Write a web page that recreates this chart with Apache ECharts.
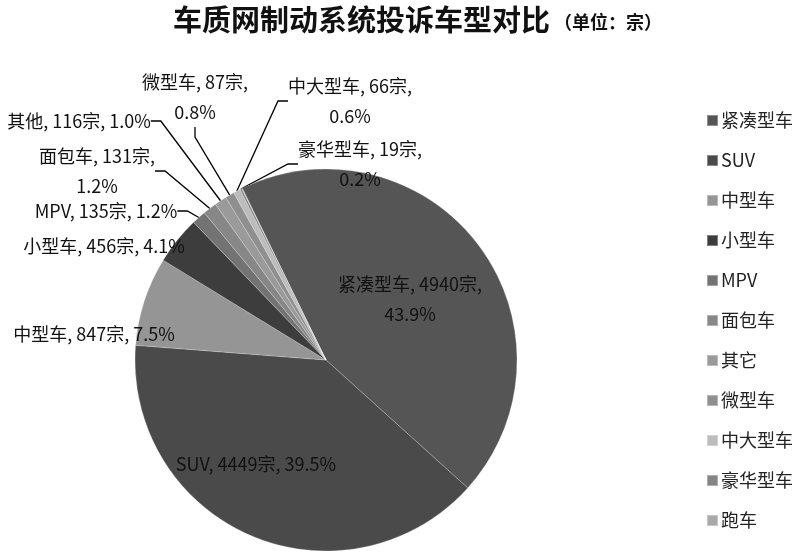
<!DOCTYPE html>
<html>
<head>
<meta charset="utf-8">
<script src="https://cdn.jsdelivr.net/npm/echarts@6/dist/echarts.min.js"></script>
<style>
html,body{margin:0;padding:0;background:#fff;}
#chart{width:800px;height:555px;}
</style>
</head>
<body>
<div id="chart"></div>
<script>
// ---- data ----
const categories = ['紧凑型车','SUV','中型车','小型车','MPV','面包车','其它','微型车','中大型车','豪华型车','跑车'];
const counts = [4940, 4449, 847, 456, 135, 131, 116, 87, 66, 19, 5];
const labelNames = ['紧凑型车','SUV','中型车','小型车','MPV','面包车','其他','微型车','中大型车','豪华型车',''];
const titleText = '车质网制动系统投诉车型对比';
const unitText = '（单位：宗）';

// ---- styles ----
const colors = ['#555555','#4a4a4a','#959595','#3d3d3d','#737373','#878787','#9a9a9a','#8f8f8f','#bcbcbc','#858585','#a9a9a9'];
const labelBreak = [1,0,0,0,0,1,0,1,1,1,0];
const labelPos = [
  [410,299],[256,464],[94,334],[104,246],[106,211],[97,171],[79,121],[195,97],[350,101],[360,164],null
];
const showLine = [false,false,false,false,true,true,true,true,true,true,false];

const total = counts.reduce((a,b)=>a+b,0);

const data = categories.map((c,i)=>({
  name: c,
  value: counts[i],
  itemStyle: {color: colors[i]},
  label: {show: labelPos[i] !== null},
  labelLine: {show: showLine[i]}
}));

const FONT = '"Noto Sans CJK SC", "Microsoft YaHei", sans-serif';
const chart = echarts.init(document.getElementById('chart'));
chart.setOption({
  backgroundColor: '#ffffff',
  textStyle: {fontFamily: FONT},
  title: {
    text: '{a|' + titleText + '}{b|' + unitText + '}',
    left: 168,
    top: 0,
    textStyle: {
      rich: {
        a: {fontSize: 29, fontWeight: 'bold', color: '#111', fontFamily: FONT},
        b: {fontSize: 18, fontWeight: 'bold', color: '#111', fontFamily: FONT, padding: [5,0,0,4]}
      }
    }
  },
  legend: {
    orient: 'vertical',
    left: 701,
    top: 105,
    itemWidth: 11,
    itemHeight: 11,
    itemGap: 19,
    icon: 'rect',
    selectedMode: false,
    data: categories,
    textStyle: {fontSize: 18, color: '#222', padding: [0,0,0,-2], fontFamily: FONT, lineHeight: 21}
  },
  series: [{
    type: 'pie',
    center: [326, 360],
    radius: 191,
    startAngle: 116,
    clockwise: true,
    avoidLabelOverlap: false,
    animation: false,
    itemStyle: {borderColor: 'rgba(255,255,255,0.35)', borderWidth: 0.6},
    label: {
      position: 'outside',
      fontSize: 18,
      lineHeight: 30,
      color: '#111',
      align: 'center',
      fontFamily: FONT,
      formatter: function(p){
        const i = p.dataIndex;
        const pct = (counts[i] / total * 100).toFixed(1) + '%';
        const head = labelNames[i] + ', ' + counts[i] + '宗,';
        return labelBreak[i] ? head + '\n' + pct : head + ' ' + pct;
      }
    },
    labelLine: {lineStyle: {color: '#000', width: 1.3}, length: 10, length2: 10},
    labelLayout: function(params){
      const p = labelPos[params.dataIndex];
      if (!p) return {};
      return {x: p[0], y: p[1], align: 'center', verticalAlign: 'middle', hideOverlap: false};
    },
    data: data
  }]
});
</script>
</body>
</html>
